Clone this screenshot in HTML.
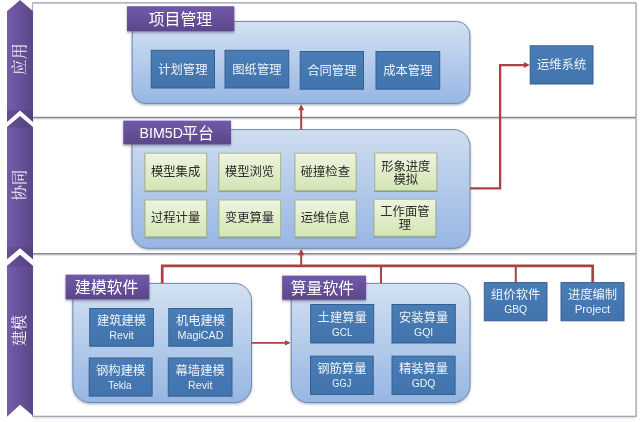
<!DOCTYPE html>
<html lang="zh"><head><meta charset="utf-8"><title>BIM5D</title>
<style>
html,body{margin:0;padding:0;background:#fff;}
body{width:640px;height:422px;position:relative;overflow:hidden;font-family:"Liberation Sans","Noto Sans CJK SC",sans-serif;}
svg{position:absolute;left:0;top:0;display:block;filter:blur(0.35px);}
svg text{font-family:"Liberation Sans","Noto Sans CJK SC",sans-serif;}
.t{position:absolute;color:transparent;text-align:center;line-height:1.1;overflow:hidden;white-space:nowrap;pointer-events:none;}
.v{writing-mode:vertical-rl;}
</style></head><body>
<svg width="640" height="422" viewBox="0 0 640 422">
<defs>
<linearGradient id="colg" x1="0" y1="0" x2="1" y2="0"><stop offset="0" stop-color="#745cab"/><stop offset="1" stop-color="#5b4686"/></linearGradient>
<linearGradient id="hdg" x1="0" y1="0" x2="0" y2="1"><stop offset="0" stop-color="#7159aa"/><stop offset="1" stop-color="#5c4789"/></linearGradient>
<linearGradient id="cg1" x1="0" y1="0" x2="0" y2="1"><stop offset="0" stop-color="#d3e1f2"/><stop offset="1" stop-color="#96b6e3"/></linearGradient>
<linearGradient id="cg2" x1="0" y1="0" x2="0" y2="1"><stop offset="0" stop-color="#cfddf0"/><stop offset="1" stop-color="#96b6e3"/></linearGradient>
<linearGradient id="cg3" x1="0" y1="0" x2="0" y2="1"><stop offset="0" stop-color="#d3e1f2"/><stop offset="1" stop-color="#96b6e3"/></linearGradient>
<linearGradient id="bbg" x1="0" y1="0" x2="0" y2="1"><stop offset="0" stop-color="#4a7db6"/><stop offset="1" stop-color="#4173ac"/></linearGradient>
<linearGradient id="gbg" x1="0" y1="0" x2="0" y2="1"><stop offset="0" stop-color="#edf4e0"/><stop offset="1" stop-color="#d4e5b3"/></linearGradient>
<filter id="shl" x="-2%" y="-2%" width="104%" height="106%"><feDropShadow dx="0" dy="1.5" stdDeviation="1.6" flood-color="#5a6a80" flood-opacity="0.3"/></filter>
<filter id="sh" x="-5%" y="-5%" width="110%" height="115%"><feDropShadow dx="0" dy="1.2" stdDeviation="1" flood-color="#3a5580" flood-opacity="0.45"/></filter>
<filter id="sh2" x="-5%" y="-10%" width="110%" height="140%"><feDropShadow dx="0" dy="1.5" stdDeviation="1.2" flood-color="#2a2050" flood-opacity="0.45"/></filter>
<filter id="sh3" x="-5%" y="-5%" width="110%" height="120%"><feDropShadow dx="0" dy="1" stdDeviation="0.7" flood-color="#50603a" flood-opacity="0.45"/></filter>
</defs>
<rect x="33.0" y="2.9" width="603.0" height="413.40000000000003" fill="#fff" filter="url(#shl)"/>
<path d="M32.5 2.9H636.0" stroke="#b4b8c0" stroke-width="1.7" fill="none"/>
<path d="M636.0 2.9V416.3M32.5 416.3H636.6" stroke="#8d909a" stroke-width="1.05" fill="none"/>
<path d="M32.6 2.9V416.3" stroke="#a6a9b6" stroke-width="1" fill="none"/>
<path d="M33.0 118.5H636.0" stroke="#c6c9d4" stroke-width="1.5" fill="none"/>
<path d="M33.0 117.3H636.0" stroke="#868a98" stroke-width="1.2" fill="none"/>
<path d="M33.0 254.79999999999998H636.0" stroke="#c6c9d4" stroke-width="1.5" fill="none"/>
<path d="M33.0 253.6H636.0" stroke="#868a98" stroke-width="1.2" fill="none"/>
<path d="M7.0 11.2L20.0 0L33.0 11.2V415.8L20.0 404.8L7.0 416.8Z" fill="url(#colg)"/>
<rect x="7.0" y="110.3" width="26.0" height="17.200000000000003" fill="#4b3878" opacity="0.35"/>
<rect x="7.0" y="247.2" width="26.0" height="19.30000000000001" fill="#4b3878" opacity="0.35"/>
<path d="M6.5 122.4L20.0 110.6L33.5 122.4V127.4L20.0 115.9L6.5 127.4Z" fill="#fff"/>
<path d="M6.5 259.8L20.0 248.3L33.5 259.8V266.3L20.0 254.7L6.5 266.3Z" fill="#fff"/>
<g transform="translate(19.1,59.3) rotate(-90)" opacity="0.95"><text x="0" y="6.27" font-size="16" fill="#fff" text-anchor="middle" style="font-family:'Liberation Serif','Noto Serif CJK SC',serif">应用</text></g>
<g transform="translate(19.1,185.3) rotate(-90)" opacity="0.95"><text x="0" y="6.27" font-size="15.5" fill="#fff" text-anchor="middle" style="font-family:'Liberation Serif','Noto Serif CJK SC',serif">协同</text></g>
<g transform="translate(19.1,330.5) rotate(-90)" opacity="0.95"><text x="0" y="6.27" font-size="15.5" fill="#fff" text-anchor="middle" style="font-family:'Liberation Serif','Noto Serif CJK SC',serif">建模</text></g>
<rect x="132.2" y="21.4" width="337.7" height="82.1" rx="13.5" fill="url(#cg1)" stroke="#7489ab" stroke-width="1" filter="url(#sh)"/>
<rect x="127" y="6.2" width="107.30000000000001" height="25.0" fill="url(#hdg)" filter="url(#sh2)"/>
<text x="148.70" y="24.94" font-size="15.9" fill="#fff" text-anchor="start">项目管理</text>
<rect x="151.2" y="50.3" width="63.30000000000001" height="37.7" fill="url(#bbg)" stroke="#365f91" stroke-width="1"/>
<text x="158.25" y="74.12" font-size="12.3" fill="#eef3f9" text-anchor="start">计划管理</text>
<rect x="225.0" y="50.3" width="63.80000000000001" height="37.7" fill="url(#bbg)" stroke="#365f91" stroke-width="1"/>
<text x="232.30" y="74.12" font-size="12.3" fill="#eef3f9" text-anchor="start">图纸管理</text>
<rect x="300.2" y="51.5" width="63.30000000000001" height="37.7" fill="url(#bbg)" stroke="#365f91" stroke-width="1"/>
<text x="307.25" y="75.32" font-size="12.3" fill="#eef3f9" text-anchor="start">合同管理</text>
<rect x="376.0" y="51.5" width="63.69999999999999" height="37.7" fill="url(#bbg)" stroke="#365f91" stroke-width="1"/>
<text x="383.25" y="75.32" font-size="12.3" fill="#eef3f9" text-anchor="start">成本管理</text>
<rect x="530.2" y="45.8" width="62.799999999999955" height="38.2" fill="url(#bbg)" stroke="#365f91" stroke-width="1"/>
<text x="537.00" y="69.07" font-size="12.3" fill="#eef3f9" text-anchor="start">运维系统</text>
<rect x="132.0" y="129.6" width="338.0" height="118.70000000000002" rx="16.5" fill="url(#cg2)" stroke="#7489ab" stroke-width="1" filter="url(#sh)"/>
<rect x="123.3" y="120.6" width="107.7" height="23.700000000000017" fill="url(#hdg)" filter="url(#sh2)"/>
<text x="139.60" y="137.71" font-size="14.2" fill="#fff" text-anchor="start">BIM5D</text>
<text x="182.20" y="138.64" font-size="15.9" fill="#fff" text-anchor="start">平台</text>
<rect x="145.00" y="153.20" width="61.60" height="37.40" fill="url(#gbg)" stroke="#a9ba92" stroke-width="1" filter="url(#sh3)"/>
<text x="151.00" y="175.82" font-size="12.3" fill="#2b2b2b" text-anchor="start">模型集成</text>
<rect x="218.90" y="153.20" width="61.60" height="37.40" fill="url(#gbg)" stroke="#a9ba92" stroke-width="1" filter="url(#sh3)"/>
<text x="224.90" y="175.82" font-size="12.3" fill="#2b2b2b" text-anchor="start">模型浏览</text>
<rect x="295.00" y="153.20" width="61.10" height="37.40" fill="url(#gbg)" stroke="#a9ba92" stroke-width="1" filter="url(#sh3)"/>
<text x="300.75" y="175.82" font-size="12.3" fill="#2b2b2b" text-anchor="start">碰撞检查</text>
<rect x="374.80" y="152.90" width="62.00" height="37.60" fill="url(#gbg)" stroke="#a9ba92" stroke-width="1" filter="url(#sh3)"/>
<text x="381.20" y="170.72" font-size="12.3" fill="#2b2b2b" text-anchor="start">形象进度</text>
<text x="393.50" y="183.82" font-size="12.3" fill="#2b2b2b" text-anchor="start">模拟</text>
<rect x="145.00" y="200.00" width="61.60" height="36.80" fill="url(#gbg)" stroke="#a9ba92" stroke-width="1" filter="url(#sh3)"/>
<text x="151.00" y="222.32" font-size="12.3" fill="#2b2b2b" text-anchor="start">过程计量</text>
<rect x="218.90" y="200.00" width="61.60" height="36.80" fill="url(#gbg)" stroke="#a9ba92" stroke-width="1" filter="url(#sh3)"/>
<text x="224.90" y="222.32" font-size="12.3" fill="#2b2b2b" text-anchor="start">变更算量</text>
<rect x="295.00" y="200.00" width="61.10" height="36.80" fill="url(#gbg)" stroke="#a9ba92" stroke-width="1" filter="url(#sh3)"/>
<text x="300.75" y="222.32" font-size="12.3" fill="#2b2b2b" text-anchor="start">运维信息</text>
<rect x="374.00" y="199.20" width="61.80" height="36.90" fill="url(#gbg)" stroke="#a9ba92" stroke-width="1" filter="url(#sh3)"/>
<text x="380.30" y="215.57" font-size="12.3" fill="#2b2b2b" text-anchor="start">工作面管</text>
<text x="398.75" y="228.67" font-size="12.3" fill="#2b2b2b" text-anchor="start">理</text>
<rect x="72.9" y="283.4" width="178.6" height="119.10000000000002" rx="17" fill="url(#cg3)" stroke="#7489ab" stroke-width="1" filter="url(#sh)"/>
<rect x="65.6" y="274.6" width="83.70000000000002" height="24.69999999999999" fill="url(#hdg)" filter="url(#sh2)"/>
<text x="74.80" y="293.04" font-size="15.9" fill="#fff" text-anchor="start">建模软件</text>
<rect x="89.7" y="308.5" width="63.7" height="37.69999999999999" fill="url(#bbg)" stroke="#365f91" stroke-width="1"/>
<text x="96.95" y="325.12" font-size="12.3" fill="#eef3f9" text-anchor="start">建筑建模</text>
<text x="121.55" y="339.22" font-size="11.3" fill="#eef3f9" text-anchor="middle" textLength="24.5" lengthAdjust="spacingAndGlyphs">Revit</text>
<rect x="168.8" y="308.5" width="63.39999999999998" height="37.69999999999999" fill="url(#bbg)" stroke="#365f91" stroke-width="1"/>
<text x="175.90" y="325.12" font-size="12.3" fill="#eef3f9" text-anchor="start">机电建模</text>
<text x="200.50" y="339.22" font-size="11.3" fill="#eef3f9" text-anchor="middle" textLength="46" lengthAdjust="spacingAndGlyphs">MagiCAD</text>
<rect x="89.2" y="358.0" width="62.89999999999999" height="38.10000000000002" fill="url(#bbg)" stroke="#365f91" stroke-width="1"/>
<text x="96.05" y="374.82" font-size="12.3" fill="#eef3f9" text-anchor="start">钢构建模</text>
<text x="119.85" y="388.92" font-size="11.3" fill="#eef3f9" text-anchor="middle" textLength="23.3" lengthAdjust="spacingAndGlyphs">Tekla</text>
<rect x="168.3" y="358.0" width="63.69999999999999" height="38.19999999999999" fill="url(#bbg)" stroke="#365f91" stroke-width="1"/>
<text x="175.55" y="374.87" font-size="12.3" fill="#eef3f9" text-anchor="start">幕墙建模</text>
<text x="200.15" y="388.97" font-size="11.3" fill="#eef3f9" text-anchor="middle" textLength="24.5" lengthAdjust="spacingAndGlyphs">Revit</text>
<rect x="291.3" y="283.4" width="178.7" height="119.10000000000002" rx="17" fill="url(#cg3)" stroke="#7489ab" stroke-width="1" filter="url(#sh)"/>
<rect x="282.2" y="275.6" width="83.80000000000001" height="24.099999999999966" fill="url(#hdg)" filter="url(#sh2)"/>
<text x="290.70" y="293.64" font-size="15.9" fill="#fff" text-anchor="start">算量软件</text>
<rect x="310.7" y="304.5" width="63.0" height="38.5" fill="url(#bbg)" stroke="#365f91" stroke-width="1"/>
<text x="317.60" y="321.52" font-size="12.3" fill="#eef3f9" text-anchor="start">土建算量</text>
<text x="342.20" y="335.62" font-size="11.3" fill="#eef3f9" text-anchor="middle" textLength="20.5" lengthAdjust="spacingAndGlyphs">GCL</text>
<rect x="392.0" y="304.5" width="63.30000000000001" height="38.5" fill="url(#bbg)" stroke="#365f91" stroke-width="1"/>
<text x="399.05" y="321.52" font-size="12.3" fill="#eef3f9" text-anchor="start">安装算量</text>
<text x="423.65" y="335.62" font-size="11.3" fill="#eef3f9" text-anchor="middle" textLength="19.2" lengthAdjust="spacingAndGlyphs">GQI</text>
<rect x="310.5" y="356.2" width="62.69999999999999" height="38.30000000000001" fill="url(#bbg)" stroke="#365f91" stroke-width="1"/>
<text x="317.25" y="373.12" font-size="12.3" fill="#eef3f9" text-anchor="start">钢筋算量</text>
<text x="341.85" y="387.22" font-size="11.3" fill="#eef3f9" text-anchor="middle" textLength="19.0" lengthAdjust="spacingAndGlyphs">GGJ</text>
<rect x="392.0" y="356.2" width="63.10000000000002" height="38.30000000000001" fill="url(#bbg)" stroke="#365f91" stroke-width="1"/>
<text x="398.95" y="373.12" font-size="12.3" fill="#eef3f9" text-anchor="start">精装算量</text>
<text x="423.55" y="387.22" font-size="11.3" fill="#eef3f9" text-anchor="middle" textLength="23.8" lengthAdjust="spacingAndGlyphs">GDQ</text>
<rect x="484.3" y="282.6" width="62.69999999999999" height="38.19999999999999" fill="url(#bbg)" stroke="#365f91" stroke-width="1"/>
<text x="491.05" y="298.87" font-size="12.3" fill="#eef3f9" text-anchor="start">组价软件</text>
<text x="515.65" y="312.97" font-size="11.3" fill="#eef3f9" text-anchor="middle" textLength="23" lengthAdjust="spacingAndGlyphs">GBQ</text>
<rect x="561.0" y="282.6" width="63.0" height="38.19999999999999" fill="url(#bbg)" stroke="#365f91" stroke-width="1"/>
<text x="567.90" y="298.87" font-size="12.3" fill="#eef3f9" text-anchor="start">进度编制</text>
<text x="592.50" y="312.97" font-size="11.3" fill="#eef3f9" text-anchor="middle" textLength="35.6" lengthAdjust="spacingAndGlyphs">Project</text>
<path d="M301.2 129.6V109" stroke="#ac4044" stroke-width="2.0" fill="none" stroke-linejoin="miter"/>
<path d="M301.2 104.2L298.2 110.2H304.2Z" fill="#ac4044"/>
<path d="M470 188.4H500.1V65.1H524" stroke="#ac4044" stroke-width="2.3" fill="none" stroke-linejoin="miter"/>
<path d="M529.8 65.1L523.8 62.099999999999994V68.1Z" fill="#ac4044"/>
<path d="M162.2 283.4V265.9H592.7V282.6" stroke="#ac4044" stroke-width="2.7" fill="none" stroke-linejoin="miter"/>
<path d="M381 266V283.4" stroke="#ac4044" stroke-width="2.0" fill="none" stroke-linejoin="miter"/>
<path d="M515.8 266V282.6" stroke="#ac4044" stroke-width="2.0" fill="none" stroke-linejoin="miter"/>
<path d="M301.2 266V254" stroke="#ac4044" stroke-width="2.0" fill="none" stroke-linejoin="miter"/>
<path d="M301.2 248.8L298.0 255.20000000000002H304.4Z" fill="#ac4044"/>
<path d="M251.6 342.8H285" stroke="#ac4044" stroke-width="1.7" fill="none" stroke-linejoin="miter"/>
<path d="M290.8 342.8L285.0 340.2V345.40000000000003Z" fill="#ac4044"/>
</svg>
<div class="t v" style="left:9px;top:41.8px;width:20px;height:36px;font-size:15px">应用</div>
<div class="t v" style="left:9px;top:167.8px;width:20px;height:36px;font-size:15px">协同</div>
<div class="t v" style="left:9px;top:313.0px;width:20px;height:36px;font-size:15px">建模</div>
<div class="t" style="left:127.0px;top:6.2px;width:107.0px;height:25.0px;font-size:15px">项目管理</div>
<div class="t" style="left:151.2px;top:50.3px;width:63.3px;height:37.7px;font-size:12px">计划管理</div>
<div class="t" style="left:225.0px;top:50.3px;width:63.8px;height:37.7px;font-size:12px">图纸管理</div>
<div class="t" style="left:300.2px;top:51.5px;width:63.3px;height:37.7px;font-size:12px">合同管理</div>
<div class="t" style="left:376.0px;top:51.5px;width:63.7px;height:37.7px;font-size:12px">成本管理</div>
<div class="t" style="left:530.2px;top:45.8px;width:62.8px;height:38.2px;font-size:12px">运维系统</div>
<div class="t" style="left:123.3px;top:120.6px;width:107.0px;height:24.0px;font-size:15px">BIM5D平台</div>
<div class="t" style="left:144.6px;top:152.8px;width:62.4px;height:38.3px;font-size:12px">模型集成</div>
<div class="t" style="left:218.5px;top:152.8px;width:62.4px;height:38.3px;font-size:12px">模型浏览</div>
<div class="t" style="left:294.6px;top:152.8px;width:61.9px;height:38.3px;font-size:12px">碰撞检查</div>
<div class="t" style="left:374.4px;top:152.5px;width:62.8px;height:38.5px;font-size:12px">形象进度模拟</div>
<div class="t" style="left:144.6px;top:199.6px;width:62.4px;height:37.7px;font-size:12px">过程计量</div>
<div class="t" style="left:218.5px;top:199.6px;width:62.4px;height:37.7px;font-size:12px">变更算量</div>
<div class="t" style="left:294.6px;top:199.6px;width:61.9px;height:37.7px;font-size:12px">运维信息</div>
<div class="t" style="left:373.6px;top:198.8px;width:62.6px;height:37.8px;font-size:12px">工作面管理</div>
<div class="t" style="left:65.6px;top:274.6px;width:84.0px;height:25.0px;font-size:15px">建模软件</div>
<div class="t" style="left:89.7px;top:308.5px;width:63.7px;height:18.8px;font-size:12px">建筑建模</div>
<div class="t" style="left:168.8px;top:308.5px;width:63.4px;height:18.8px;font-size:12px">机电建模</div>
<div class="t" style="left:89.2px;top:358.0px;width:62.9px;height:19.1px;font-size:12px">钢构建模</div>
<div class="t" style="left:168.3px;top:358.0px;width:63.7px;height:19.1px;font-size:12px">幕墙建模</div>
<div class="t" style="left:282.2px;top:275.6px;width:84.0px;height:24.0px;font-size:15px">算量软件</div>
<div class="t" style="left:310.7px;top:304.5px;width:63.0px;height:19.2px;font-size:12px">土建算量</div>
<div class="t" style="left:392.0px;top:304.5px;width:63.3px;height:19.2px;font-size:12px">安装算量</div>
<div class="t" style="left:310.5px;top:356.2px;width:62.7px;height:19.2px;font-size:12px">钢筋算量</div>
<div class="t" style="left:392.0px;top:356.2px;width:63.1px;height:19.2px;font-size:12px">精装算量</div>
<div class="t" style="left:484.3px;top:282.6px;width:62.7px;height:19.1px;font-size:12px">组价软件</div>
<div class="t" style="left:561.0px;top:282.6px;width:63.0px;height:19.1px;font-size:12px">进度编制</div>
</body></html>
